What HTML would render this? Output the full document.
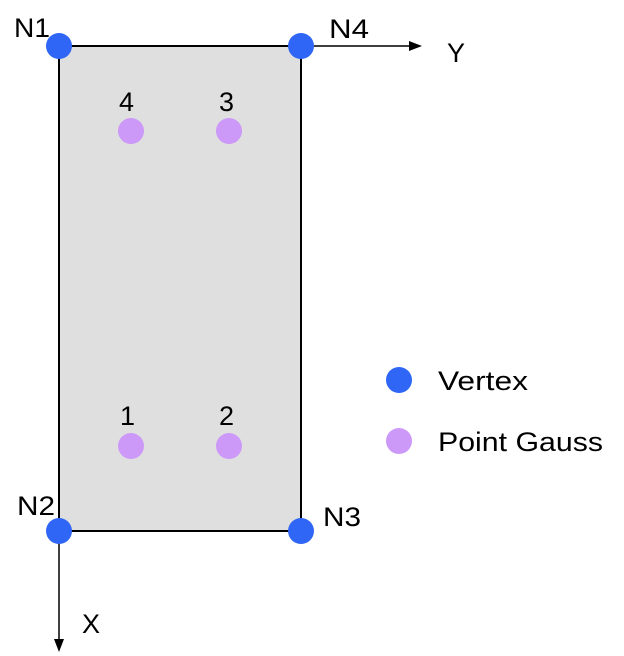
<!DOCTYPE html>
<html><head><meta charset="utf-8"><style>
html,body{margin:0;padding:0;background:#fff;width:624px;height:656px;overflow:hidden}
text{font-family:"Liberation Sans","DejaVu Sans",sans-serif;font-size:27px;fill:#000}
</style></head><body>
<svg width="624" height="656" viewBox="0 0 624 656" xmlns="http://www.w3.org/2000/svg">
<rect x="59" y="46" width="242" height="485" fill="#dfdfdf" stroke="#000" stroke-width="2"/>
<line x1="301" y1="46" x2="412" y2="46" stroke="#000" stroke-width="1.5"/>
<polygon points="422,46 409,41 409,51" fill="#000"/>
<line x1="59" y1="531" x2="59" y2="640" stroke="#000" stroke-width="1.5"/>
<polygon points="59,652 54,639 64,639" fill="#000"/>
<circle cx="131" cy="131" r="13" fill="#cc99f9"/>
<circle cx="229" cy="131" r="13" fill="#cc99f9"/>
<circle cx="131" cy="446" r="13" fill="#cc99f9"/>
<circle cx="229" cy="446" r="13" fill="#cc99f9"/>
<circle cx="59" cy="46" r="13" fill="#2f66f5"/>
<circle cx="301" cy="46" r="13" fill="#2f66f5"/>
<circle cx="59" cy="531" r="13" fill="#2f66f5"/>
<circle cx="301" cy="531" r="13" fill="#2f66f5"/>
<circle cx="399" cy="380" r="13" fill="#2f66f5"/>
<circle cx="399" cy="441" r="13" fill="#cc99f9"/>
<text x="14" y="37" textLength="36" lengthAdjust="spacingAndGlyphs">N1</text>
<text x="329" y="38" textLength="40" lengthAdjust="spacingAndGlyphs">N4</text>
<text x="17" y="515" textLength="38" lengthAdjust="spacingAndGlyphs">N2</text>
<text x="323" y="526" textLength="38" lengthAdjust="spacingAndGlyphs">N3</text>
<text x="447" y="62">Y</text>
<text x="82" y="633">X</text>
<text x="119" y="111">4</text>
<text x="219" y="111">3</text>
<text x="120" y="425">1</text>
<text x="219" y="425">2</text>
<text x="438" y="390" textLength="90" lengthAdjust="spacingAndGlyphs">Vertex</text>
<text x="438" y="451" textLength="165" lengthAdjust="spacingAndGlyphs">Point Gauss</text>
</svg>
</body></html>
